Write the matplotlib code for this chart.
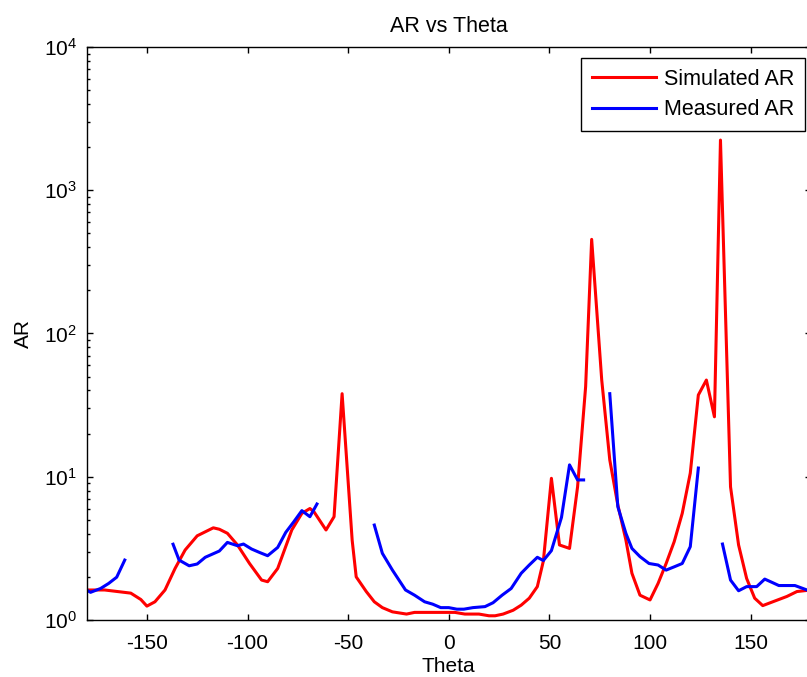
"""Plot simulated and measured AR against theta on a log scale."""

import numpy as np
from matplotlib import pyplot as plt

OUT_FILE = "out.png"

# simulated axial ratio
SIM_THETA = [-180, -171, -158, -153, -150, -146, -141, -136, -131, -125,
             -117, -114, -110, -105, -99, -93, -90, -85, -78, -73,
             -69, -67, -61, -57, -53, -48, -46, -41, -37, -33,
             -28, -21, -17, -5, 3, 8, 15, 20, 23, 27,
             32, 36, 40, 44, 47, 51, 55, 60, 64, 68,
             71, 76, 80, 84, 88, 91, 95, 100, 104, 108,
             112, 116, 120, 124, 128, 132, 135, 140, 144, 148,
             152, 156, 161, 168, 173, 180]
SIM_AR = [1.62, 1.62, 1.54, 1.39, 1.25, 1.34, 1.62, 2.29, 3.08, 3.87,
          4.40, 4.30, 4.03, 3.34, 2.48, 1.90, 1.85, 2.29, 4.25, 5.55,
          6.0, 5.7, 4.25, 5.26, 38.0, 3.6, 2.0, 1.58, 1.34, 1.22,
          1.14, 1.10, 1.13, 1.13, 1.13, 1.10, 1.10, 1.07, 1.07, 1.10,
          1.17, 1.27, 1.42, 1.71, 2.58, 9.75, 3.34, 3.16, 8.5, 42.5,
          454, 47.3, 13.1, 6.35, 3.62, 2.12, 1.49, 1.38, 1.80, 2.48,
          3.52, 5.55, 10.6, 37.2, 47.3, 26.2, 2240, 8.5, 3.34, 1.95,
          1.42, 1.26, 1.34, 1.46, 1.58, 1.62]

# measured axial ratio, NaN marks the gaps in the measurement
MEAS_THETA = [-180, -178, -173, -169, -165, -161, -150,
              -137, -134, -129, -125, -121, -114, -110, -105, -102, -98,
              -94, -90, -85, -81, -77, -73, -69, -65.5, -50,
              -37, -33, -28, -21.5, -17, -12, -8, -4, 0, 4,
              7.5, 12, 18, 22, 26.5, 31, 36, 40, 44, 47,
              51, 56, 60, 64, 67, 72,
              80, 84, 88, 91, 95, 99.5, 104, 108, 112, 116,
              120, 124, 130,
              136, 140, 144, 148, 153, 157, 161, 164, 172, 178, 180]
MEAS_AR = [1.62, 1.56, 1.66, 1.80, 1.99, 2.62, np.nan,
           3.38, 2.62, 2.39, 2.46, 2.74, 3.03, 3.48, 3.30, 3.39, 3.13,
           2.96, 2.81, 3.21, 4.09, 4.85, 5.8, 5.26, 6.45, np.nan,
           4.6, 2.92, 2.23, 1.62, 1.49, 1.34, 1.29, 1.22, 1.22, 1.19,
           1.19, 1.22, 1.24, 1.32, 1.49, 1.66, 2.12, 2.42, 2.74, 2.60,
           3.05, 5.2, 12.1, 9.5, 9.5, np.nan,
           38.0, 6.18, 4.03, 3.16, 2.77, 2.48, 2.42, 2.23, 2.35, 2.48,
           3.25, 11.5, np.nan,
           3.39, 1.90, 1.60, 1.71, 1.71, 1.93, 1.82, 1.74, 1.74, 1.62, 1.55]

X_TICKS = [-150, -100, -50, 0, 50, 100, 150]

FONT = {"family": ["Liberation Sans", "DejaVu Sans"], "size": 15}


def main():
    plt.rc("font", **FONT)
    plt.rc("mathtext", fontset="custom", rm="Liberation Sans",
           it="Liberation Sans:italic")

    fig = plt.figure(figsize=(8.07, 6.77), dpi=100)
    ax = fig.add_axes([0.1072, 0.0842, 0.8978, 0.8464])

    ax.plot(SIM_THETA, SIM_AR, color="#ff0000", lw=2.2, label="Simulated AR")
    ax.plot(MEAS_THETA, MEAS_AR, color="#0000ff", lw=2.2, label="Measured AR")

    ax.set_yscale("log")
    ax.set_xlim(-180, 180)
    ax.set_ylim(1, 1e4)
    ax.set_xticks(X_TICKS)
    ax.set_xticklabels([str(t) for t in X_TICKS])

    ax.tick_params(which="both", direction="in", top=True, right=True,
                   width=1.0, color="black", labelsize=15)
    ax.tick_params(which="major", length=4)
    ax.tick_params(axis="x", which="major", pad=10)
    ax.tick_params(axis="y", which="major", pad=7)
    ax.tick_params(which="minor", length=2.5)
    ax.tick_params(axis="x", which="minor", top=False, bottom=False)
    for spine in ax.spines.values():
        spine.set_linewidth(1.0)

    ax.set_title("AR vs Theta", fontsize=15.5, pad=11)
    ax.set_xlabel("Theta", fontsize=15, labelpad=3)
    ax.set_ylabel("AR", fontsize=15, labelpad=8)

    leg = ax.legend(loc="upper right", bbox_to_anchor=(0.9917, 0.9808),
                    borderaxespad=0, fancybox=False, framealpha=1,
                    edgecolor="black", handlelength=3.0, handletextpad=0.35,
                    fontsize=15.5, labelspacing=0.45, borderpad=0.5)
    leg.get_frame().set_linewidth(1.0)

    fig.savefig(OUT_FILE, dpi=100)


if __name__ == "__main__":
    main()
